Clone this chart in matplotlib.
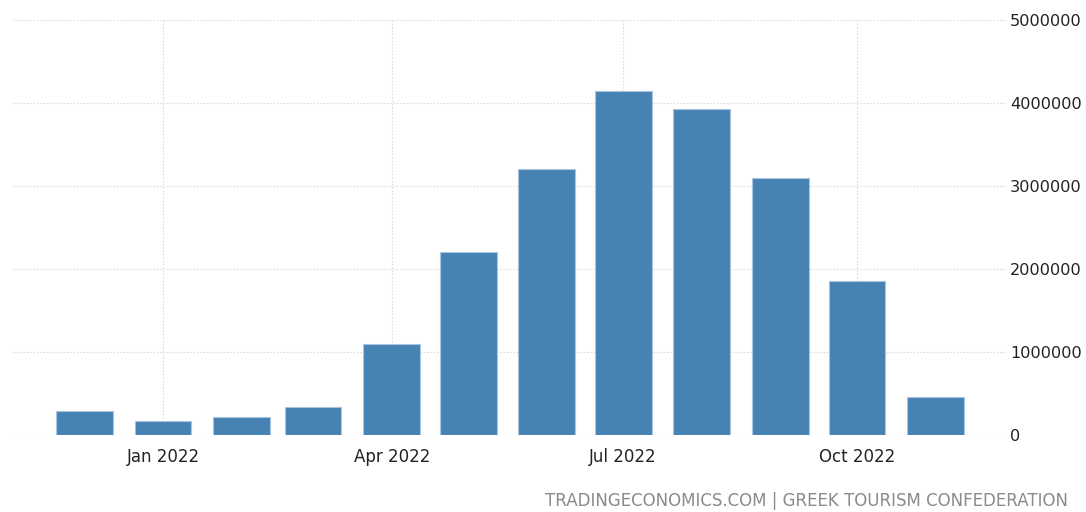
import matplotlib
matplotlib.use("Agg")
import matplotlib.pyplot as plt
import matplotlib.dates as mdates
import datetime as dt

months = ["2021-12", "2022-01", "2022-02", "2022-03", "2022-04", "2022-05",
          "2022-06", "2022-07", "2022-08", "2022-09", "2022-10", "2022-11"]
arrivals = [289000, 169000, 217000, 337000, 1096000, 2205000,
            3205000, 4145000, 3928000, 3096000, 1855000, 458000]
tick_dates = ["2022-01", "2022-04", "2022-07", "2022-10"]
tick_labels = ["Jan 2022", "Apr 2022", "Jul 2022", "Oct 2022"]
y_ticks = [0, 1000000, 2000000, 3000000, 4000000, 5000000]

def to_date(s):
    y, m = s.split("-")
    return dt.date(int(y), int(m), 1)

x = [to_date(m) for m in months]

fig = plt.figure(figsize=(10.86, 5.12), dpi=100)
ax = fig.add_axes([13/1086, 1-435/512, (1007-13)/1086, (435-20)/512])

ax.bar(x, arrivals, width=22.4, color="#4682B4", edgecolor="#a9c4dc",
       linewidth=0.8, zorder=3, align="center")

ax.set_xlim(dt.date(2022, 1, 1) - dt.timedelta(days=59),
            dt.date(2022, 1, 1) + dt.timedelta(days=332))
ax.set_ylim(0, 5000000)

ax.set_xticks([mdates.date2num(to_date(d)) for d in tick_dates])
ax.set_xticklabels(tick_labels)
ax.set_yticks(y_ticks)
ax.set_yticklabels([str(v) for v in y_ticks])
ax.yaxis.tick_right()

ax.tick_params(axis="both", length=0, labelsize=12, colors="#222222")
ax.tick_params(axis="y", labelsize=11.6, pad=2)
ax.tick_params(axis="x", pad=9)

ax.grid(True, color="#dcdcdc", linestyle=(0, (1.5, 1.5)), linewidth=0.8, zorder=0)
for s in ax.spines.values():
    s.set_visible(False)

fig.text(1068/1086, 1-501/512, "TRADINGECONOMICS.COM | GREEK TOURISM CONFEDERATION",
         ha="right", va="center", fontsize=12, color="#8a8a8a")

fig.savefig("out.png", dpi=100, facecolor="white")
